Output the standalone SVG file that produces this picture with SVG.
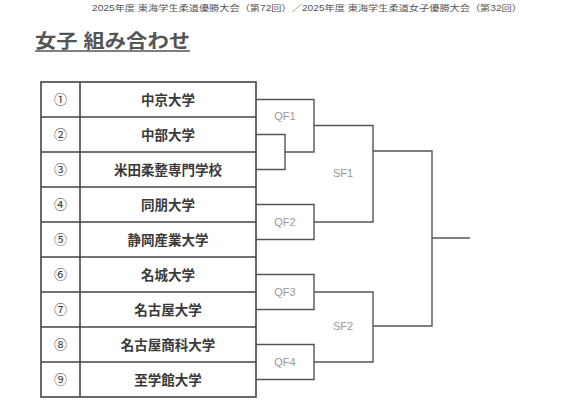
<svg xmlns="http://www.w3.org/2000/svg" width="578" height="410" viewBox="0 0 578 410">
<style>
  .cjk{font-family:"Liberation Sans","Noto Sans CJK JP",sans-serif}
  .hdr{font-size:8.5px;fill:#555}
  .ttl{font-size:19px;font-weight:bold;fill:#555}
  .num{font-size:13px;fill:#333;text-anchor:middle}
  .name{font-size:13.5px;font-weight:bold;fill:#3a3a3a;text-anchor:middle}
  .lbl{font-family:"Liberation Sans",sans-serif;font-size:11px;fill:#999;text-anchor:middle}
  .tb{fill:none;stroke:#444;stroke-width:1.6}
  .br{fill:none;stroke:#555;stroke-width:1.4}
</style>
<rect width="578" height="410" fill="#fff"/>
<text class="cjk hdr" x="92" y="11" textLength="430" lengthAdjust="spacingAndGlyphs">2025年度 東海学生柔道優勝大会（第72回）／2025年度 東海学生柔道女子優勝大会（第32回）</text>
<text class="cjk ttl" x="35" y="48" textLength="155" lengthAdjust="spacingAndGlyphs">女子 組み合わせ</text>
<line x1="35" y1="51" x2="190" y2="51" stroke="#555" stroke-width="1.6"/>
<g id="table">
  <rect class="tb" x="41" y="82" width="215" height="315"/>
  <line class="tb" x1="80" y1="82" x2="80" y2="397"/>
  <path class="tb" d="M41 117H256M41 152H256M41 187H256M41 222H256M41 257H256M41 292H256M41 327H256M41 362H256"/>
</g>
<g id="n1"><text class="cjk num" x="60.5" y="104">①</text><text class="cjk name" x="168" y="104.5">中京大学</text></g>
<g id="n2"><text class="cjk num" x="60.5" y="139">②</text><text class="cjk name" x="168" y="139.5">中部大学</text></g>
<g id="n3"><text class="cjk num" x="60.5" y="174">③</text><text class="cjk name" x="168" y="174.5">米田柔整専門学校</text></g>
<g id="n4"><text class="cjk num" x="60.5" y="209">④</text><text class="cjk name" x="168" y="209.5">同朋大学</text></g>
<g id="n5"><text class="cjk num" x="60.5" y="244">⑤</text><text class="cjk name" x="168" y="244.5">静岡産業大学</text></g>
<g id="n6"><text class="cjk num" x="60.5" y="279">⑥</text><text class="cjk name" x="168" y="279.5">名城大学</text></g>
<g id="n7"><text class="cjk num" x="60.5" y="314">⑦</text><text class="cjk name" x="168" y="314.5">名古屋大学</text></g>
<g id="n8"><text class="cjk num" x="60.5" y="349">⑧</text><text class="cjk name" x="168" y="349.5">名古屋商科大学</text></g>
<g id="n9"><text class="cjk num" x="60.5" y="384">⑨</text><text class="cjk name" x="168" y="384.5">至学館大学</text></g>
<g id="connectors">
  <path class="br" d="M256 134.5H285V169.5H256"/>
  <path class="br" d="M256 99.5H314V152H285"/>
  <path class="br" d="M256 204.5H314V239.5H256"/>
  <path class="br" d="M256 274.5H314V309.5H256"/>
  <path class="br" d="M256 344.5H314V379.5H256"/>
  <path class="br" d="M314 125.5H373V222H314"/>
  <path class="br" d="M314 292H373V362H314"/>
  <path class="br" d="M373 151H432V326H373"/>
  <path class="br" d="M432 238H470"/>
</g>
<g id="labels">
  <text class="lbl" x="285" y="120">QF1</text>
  <text class="lbl" x="285" y="226">QF2</text>
  <text class="lbl" x="285" y="296">QF3</text>
  <text class="lbl" x="285" y="366">QF4</text>
  <text class="lbl" x="343" y="177">SF1</text>
  <text class="lbl" x="343" y="330">SF2</text>
</g>
</svg>
